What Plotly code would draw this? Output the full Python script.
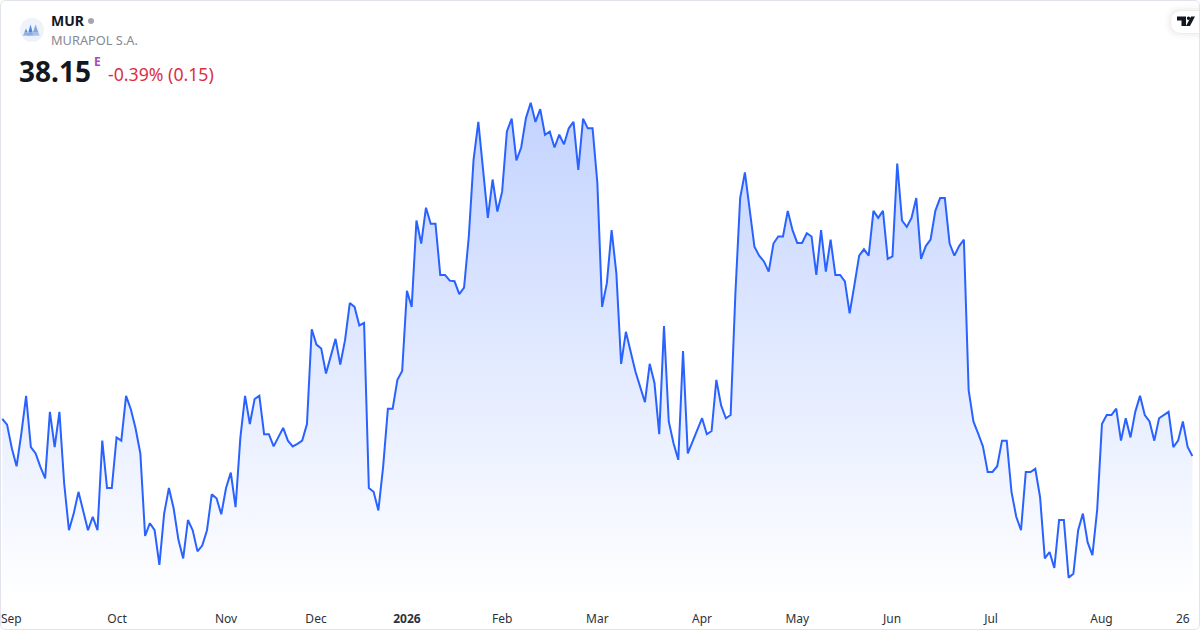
import plotly.graph_objects as go

# cierres diarios
close = [
    38.73, 38.64, 38.27, 37.99, 38.50, 39.09, 38.29, 38.19, 37.98, 37.80, 38.84, 38.29, 38.84, 37.72, 36.99, 37.25,
    37.59, 37.28, 36.99, 37.20, 36.99, 38.39, 37.65, 37.65, 38.44, 38.39, 39.09, 38.88, 38.58, 38.19, 36.90, 37.10,
    36.99, 36.45, 37.25, 37.65, 37.33, 36.84, 36.55, 37.15, 36.99, 36.66, 36.75, 36.99, 37.55, 37.49, 37.24, 37.65,
    37.89, 37.35, 38.43, 39.09, 38.65, 39.04, 39.09, 38.49, 38.49, 38.30, 38.44, 38.59, 38.39, 38.30, 38.34,
    38.39, 38.65, 40.13, 39.89, 39.83, 39.44, 39.70, 39.98, 39.58, 39.96, 40.54, 40.48, 40.19, 40.23, 37.65, 37.59,
    37.30, 37.98, 38.89, 38.89, 39.34, 39.48, 40.73, 40.48, 41.83, 41.47, 42.03, 41.78, 41.78, 40.98, 40.98, 40.89,
    40.88, 40.68, 40.78, 41.58, 42.78, 43.37, 42.62, 41.87, 42.47, 41.97, 42.28, 43.22, 43.42, 42.77, 42.97, 43.43,
    43.67, 43.37, 43.57, 43.17, 43.22, 42.97, 43.17, 43.02, 43.27, 43.37, 42.62, 43.42, 43.27, 43.27, 42.42,
    40.48, 40.85, 41.68, 41.00, 39.59, 40.09, 39.78, 39.47, 39.23, 38.99, 39.59, 39.29, 38.49, 40.18, 38.69, 38.35,
    38.09, 39.79, 38.19, 38.37, 38.58, 38.74, 38.49, 38.54, 39.34, 38.94, 38.74, 38.79, 40.69, 42.18, 42.58, 41.99,
    41.42, 41.28, 41.19, 41.03, 41.47, 41.58, 41.58, 41.98, 41.68, 41.48, 41.48, 41.63, 41.58, 40.98, 41.68, 41.03,
    41.53, 40.98, 40.98, 40.88, 40.38, 40.82, 41.28, 41.38, 41.28, 41.98, 41.87, 41.98, 41.23, 41.27, 42.72, 41.83,
    41.73, 41.87, 42.18, 41.23, 41.43, 41.53, 41.98, 42.18, 42.18, 41.47, 41.28, 41.43, 41.53,
    39.18, 38.69, 38.50, 38.30, 37.90, 37.90, 37.99, 38.39, 38.39, 37.59, 37.20, 36.99, 37.90, 37.90, 37.95, 37.51,
    36.55, 36.65, 36.40, 37.15, 37.15, 36.25, 36.31, 36.99, 37.25, 36.80, 36.60, 37.31, 38.65, 38.79, 38.79, 38.89,
    38.39, 38.74, 38.44, 38.84, 39.09, 38.79, 38.69, 38.39, 38.74, 38.79, 38.84, 38.29, 38.39, 38.69, 38.29, 38.15,
]
session = list(range(len(close)))

# etiquetas del eje x
tick_session = [1.9, 24.1, 47, 65.9, 85, 105, 125, 147, 167, 186.9, 207.7, 230.9, 248]
tick_text = ['Sep', 'Oct', 'Nov', 'Dec', '<b>2026</b>', 'Feb', 'Mar', 'Apr', 'May', 'Jun', 'Jul', 'Aug', '26']

W, H = 1200, 630
PLOT_H = 600  # el papel de plotly es solo el area del grafico
FONT = 'Noto Sans'
BLUE = '#2962ff'


# pasa pixeles de la imagen a coordenadas paper
def fx(x):
    return x / W


def fy(y):
    return 1 - y / PLOT_H


def px(x, y):
    return f'{fx(x):.5f},{fy(y):.5f}'


def blob(points, color, opacity=1):
    return dict(type='path', xref='paper', yref='paper', path='M' + ' L'.join(px(x, y) for x, y in points) + ' Z',
                fillcolor=color, opacity=opacity, line=dict(width=0))


def dot(x0, x1, y0, y1, color):
    return dict(type='circle', xref='paper', yref='paper', x0=fx(x0), x1=fx(x1), y0=fy(y1), y1=fy(y0),
                fillcolor=color, line=dict(width=0))


def pill(grow, color):
    top, bottom, left = 11 - grow, 33 + grow, 1171 - grow
    r = (bottom - top) / 2
    return dict(type='path', xref='paper', yref='paper', fillcolor=color, line=dict(width=0),
                path='M' + px(1199, top) + ' L' + px(left + r, top) + ' Q' + px(left, top) + ' ' + px(left, top + r)
                     + ' Q' + px(left, bottom) + ' ' + px(left + r, bottom) + ' L' + px(1199, bottom) + ' Z')


def text(x, y, s, size, color, weight=None):
    if weight:
        s = f'<b>{s}</b>'
    return dict(x=fx(x), y=fy(y), xref='paper', yref='paper', text=s, showarrow=False, xanchor='left',
                yanchor='middle', font=dict(family=FONT, size=size, color=color))


fig = go.Figure()

fig.add_trace(go.Scatter(
    x=session,
    y=close,
    mode='lines',
    line=dict(color=BLUE, width=2),
    fill='tozeroy',
    fillgradient=dict(
        type='vertical',
        start=35.9,
        stop=43.67,
        colorscale=[[0, 'rgba(41,98,255,0)'], [1, 'rgba(41,98,255,0.28)']],
    ),
    hoverinfo='skip',
))

shapes = [
    # borde de la tarjeta
    dict(type='path', xref='paper', yref='paper', fillcolor='rgba(0,0,0,0)', line=dict(color='#e0e3eb', width=1),
         path='M' + px(0.5, 6) + ' Q' + px(0.5, 0.5) + ' ' + px(6, 0.5) + ' L' + px(1194, 0.5) + ' Q' + px(1199.5, 0.5)
              + ' ' + px(1199.5, 6) + ' L' + px(1199.5, 624) + ' Q' + px(1199.5, 629.5) + ' ' + px(1194, 629.5)
              + ' L' + px(6, 629.5) + ' Q' + px(0.5, 629.5) + ' ' + px(0.5, 624) + ' Z'),
    # logo
    dot(20, 44, 18, 42, '#eef2fb'),
    blob([(23, 35.5), (26, 28.5), (29, 35.5)], '#5f90d6'),
    blob([(27.5, 35.5), (30.5, 24.5), (33.5, 35.5)], '#4f86d2'),
    blob([(32, 35.5), (35.5, 24.5), (39.5, 35.5)], '#7ea8e0'),
    blob([(23, 35.5), (23.8, 32), (38.4, 32), (39.5, 35.5)], '#eef2fb', 0.35),
    # punto de estado
    dot(88, 94, 18, 24, '#a3a6af'),
]

# sombra y fondo de la pastilla del logo de tradingview
for grow, alpha in [(7, 0.008), (5, 0.012), (3, 0.018), (1, 0.03)]:
    shapes.append(pill(grow, f'rgba(0,0,0,{alpha})'))
shapes.append(pill(0, '#ffffff'))
shapes += [
    blob([(1177, 16.5), (1186, 16.5), (1186, 26), (1181.5, 26), (1181.5, 20.5), (1177, 20.5)], '#131722'),
    blob([(1191, 16.5), (1195, 16.5), (1190, 26), (1186, 26)], '#131722'),
    dot(1186.8, 1190.2, 16.5, 20, '#131722'),
]

annotations = [
    text(49, 20.5, 'MUR', 14, '#131722', True),
    text(49, 40, 'MURAPOL S.A.', 12.8, '#868993'),
    text(17, 71, '38.15', 28, '#131722', True),
    text(92, 61.5, 'E', 12, '#ab47bc', True),
    text(106, 74, '-0.39% (0.15)', 17.7, '#dc2f44'),
]

fig.update_layout(
    width=W,
    height=H,
    margin=dict(l=0, r=0, t=0, b=30),
    paper_bgcolor='#ffffff',
    plot_bgcolor='#ffffff',
    showlegend=False,
    font=dict(family=FONT, size=12, color='#2e3138'),
    shapes=shapes,
    annotations=annotations,
    xaxis=dict(
        range=[-0.483, 251.6],
        tickmode='array',
        tickvals=tick_session,
        ticktext=tick_text,
        ticks='outside',
        ticklen=8,
        tickcolor='rgba(0,0,0,0)',
        showgrid=False,
        zeroline=False,
        showline=False,
    ),
    yaxis=dict(range=[35.9, 45.275], visible=False),
)

# sin margen en el body para que la imagen quede alineada
fig.write_html('out.html', config={'displayModeBar': False},
               post_script="document.body.style.margin='0';")
